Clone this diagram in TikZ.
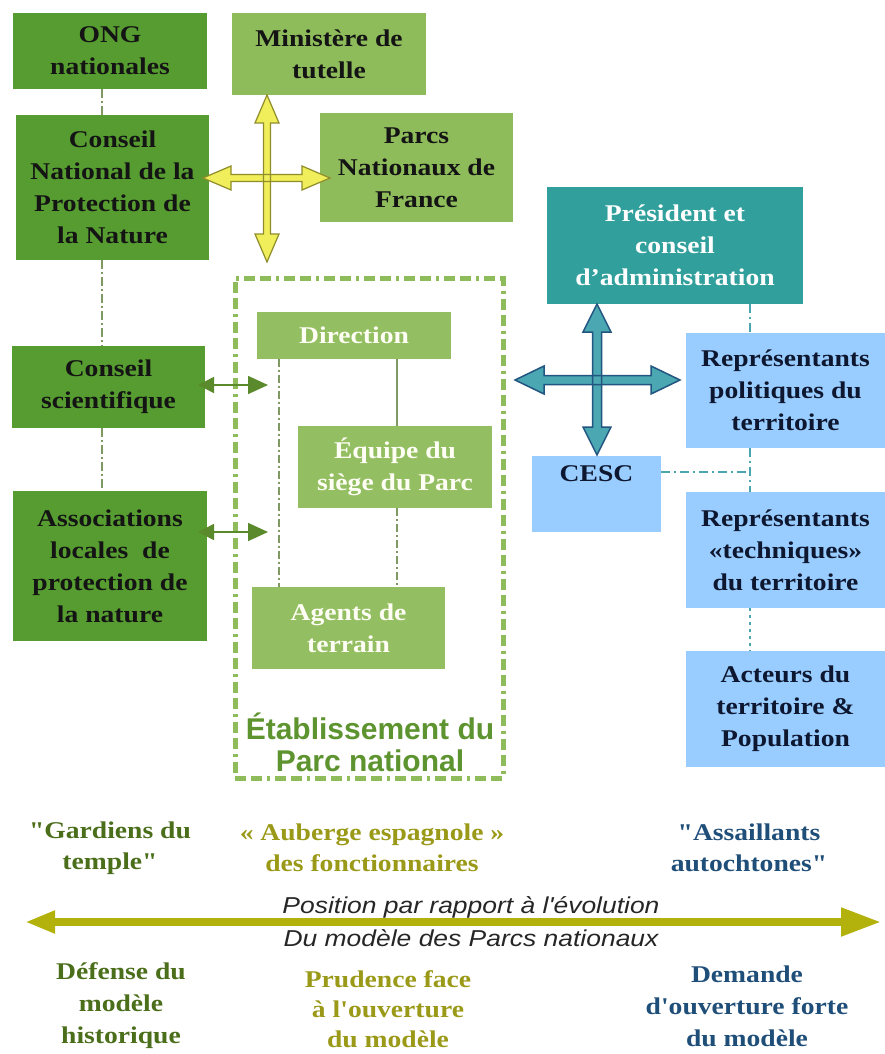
\documentclass[tikz,border=0pt]{standalone}
\usepackage{fontspec}
\usetikzlibrary{arrows.meta}
\newfontfamily\serifx{Liberation Serif}[FakeStretch=1.15]
\newfontfamily\sansx{Liberation Sans}
\newfontfamily\sansxi{Liberation Sans}[FakeStretch=1.15]
\definecolor{dg}{HTML}{569C30}
\definecolor{lg}{HTML}{8FBC5B}
\definecolor{lgtwo}{HTML}{93BF62}
\definecolor{tealb}{HTML}{31A09D}
\definecolor{lb}{HTML}{99CCFF}
\definecolor{ylf}{HTML}{F0EE5A}
\definecolor{yld}{HTML}{8F8E2A}
\definecolor{tlf}{HTML}{4BA8B2}
\definecolor{tld}{HTML}{22557F}
\definecolor{conn}{HTML}{7E9A62}
\definecolor{arrg}{HTML}{5B8A2C}
\definecolor{axiscol}{HTML}{B3B20C}
\definecolor{tgreen}{HTML}{4B6E1B}
\definecolor{tolive}{HTML}{9A9918}
\definecolor{tnavy}{HTML}{1F4E79}
\definecolor{etab}{HTML}{5E9430}
\definecolor{tdash}{HTML}{4AA5AE}
\definecolor{rtext}{HTML}{0E1730}
\newcommand{\HArr}[7]{\path[#1] (#2,#4) -- (#2+#7,#4-#6) -- (#2+#7,#4-#5) -- (#3-#7,#4-#5) -- (#3-#7,#4-#6) -- (#3,#4) -- (#3-#7,#4+#6) -- (#3-#7,#4+#5) -- (#2+#7,#4+#5) -- (#2+#7,#4+#6) -- cycle;}
\newcommand{\VArr}[7]{\path[#1] (#4,#2) -- (#4-#6,#2+#7) -- (#4-#5,#2+#7) -- (#4-#5,#3-#7) -- (#4-#6,#3-#7) -- (#4,#3) -- (#4+#6,#3-#7) -- (#4+#5,#3-#7) -- (#4+#5,#2+#7) -- (#4+#6,#2+#7) -- cycle;}
\tikzset{
  box/.style={rectangle, inner sep=0pt, align=center, font=\serifx\bfseries\fontsize{24}{32}\selectfont, text=black!92},
  dgbox/.style={box, fill=dg},
  lgbox/.style={box, fill=lg},
  inbox/.style={box, fill=lgtwo, text=white!96!yellow},
  tbox/.style={box, fill=tealb, text=white},
  bbox/.style={box, fill=lb, text=rtext},
  leftconn/.style={draw=conn, line width=1.5pt, dash pattern=on 9pt off 3pt on 2pt off 3pt},
  inconn/.style={draw=conn, line width=1.3pt},
  rconn/.style={draw=tdash, line width=2.5pt, dash pattern=on 9pt off 4pt on 2pt off 4pt},
  smallarr/.style={draw=arrg, line width=1.5pt, {Triangle[length=16pt,width=16pt]}-{Triangle[length=20pt,width=18pt]}},
  bottxt/.style={align=center, inner sep=0pt, font=\serifx\bfseries\fontsize{24}{31}\selectfont},
  ital/.style={align=center, inner sep=0pt, text=black!85, font=\sansxi\itshape\fontsize{23}{32}\selectfont}
}
\begin{document}
\begin{tikzpicture}[x=1pt,y=-1pt]
\useasboundingbox (0,0) rectangle (885,1054);
\fill[white] (0,0) rectangle (885,1054);

% establishment frame
\node[draw=lg, line width=5pt, dash pattern=on 11pt off 5pt on 11pt off 5pt on 3pt off 5pt, minimum width=268, minimum height=500, inner sep=0pt] (etabbox) at (369,528) {};
\node[align=center, inner sep=0pt, text=etab, font=\sansx\bfseries\fontsize{30}{32}\selectfont] (etablbl) at (370,742) {Établissement du\\Parc national};

% left column
\node[dgbox, minimum width=194, minimum height=76] (ong) at (110,51) {ONG\\nationales};
\node[lgbox, minimum width=194, minimum height=82] (min) at (329,54) {Ministère de\\tutelle};
\node[dgbox, minimum width=193, minimum height=145] (cnpn) at (112.5,187.5) {Conseil\\National de la\\Protection de\\la Nature};
\node[lgbox, minimum width=193, minimum height=109] (pnf) at (416.5,167.5) {Parcs\\Nationaux de\\France};
\node[dgbox, minimum width=193, minimum height=82] (cs) at (108.5,387) {Conseil\\scientifique};
\node[dgbox, minimum width=194, minimum height=150] (assoc) at (110,566) {Associations\\locales\ \ de\\protection de\\la nature};

% inner boxes
\node[inbox, minimum width=194, minimum height=47] (dir) at (354,335.5) {Direction};
\node[inbox, minimum width=194, minimum height=82] (equipe) at (395,467) {Équipe du\\siège du Parc};
\node[inbox, minimum width=193, minimum height=82] (agents) at (348.5,628) {Agents de\\terrain};

% right column
\node[tbox, minimum width=256, minimum height=117] (pres) at (675,245.5) {Président et\\conseil\\d’administration};
\node[bbox, minimum width=199, minimum height=115] (rpol) at (785.5,390.5) {Représentants\\politiques du\\territoire};
\node[bbox, minimum width=129, minimum height=76] (cesc) at (596.5,494) {CESC\\ \strut};
\node[bbox, minimum width=199, minimum height=116] (rtech) at (785.5,550) {Représentants\\«techniques»\\du territoire};
\node[bbox, minimum width=199, minimum height=116] (act) at (785.5,709) {Acteurs du\\territoire \&\\Population};

% left dashed connectors
\coordinate (lx) at (102,0);
\draw[leftconn] (ong.south -| lx) -- (cnpn.north -| lx);
\draw[leftconn] (cnpn.south -| lx) -- (cs.north -| lx);
\draw[leftconn] (cs.south -| lx) -- (assoc.north -| lx);

% inner connectors
\coordinate (ixa) at (279,0);
\coordinate (ixb) at (397,0);
\draw[inconn, dash pattern=on 8pt off 3pt on 2pt off 3pt] (dir.south -| ixa) -- (agents.north -| ixa);
\draw[inconn] (dir.south -| ixb) -- (equipe.north -| ixb);
\draw[inconn, dash pattern=on 8pt off 3pt on 2pt off 3pt] (equipe.south -| ixb) -- (agents.north -| ixb);

% right connectors
\coordinate (rx) at (750,0);
\coordinate (cy) at (0,472);
\draw[rconn] (pres.south -| rx) -- (rpol.north -| rx);
\draw[rconn] (rpol.south -| rx) -- (rtech.north -| rx);
\draw[rconn] (cesc.east |- cy) -- (rx |- cy);
\draw[draw=tdash, line width=2.5pt, dash pattern=on 3pt off 4pt] (rtech.south -| rx) -- (act.north -| rx);

% small double arrows
\coordinate (sa) at (198,385);
\coordinate (sb) at (268,385);
\coordinate (sc) at (198,532);
\coordinate (sd) at (268,532);
\draw[smallarr] (sa) -- (sb);
\draw[smallarr] (sc) -- (sd);

% yellow cross
\HArr{fill=ylf}{203}{330}{178}{3.5}{12}{28}
\VArr{fill=ylf}{95}{262}{267}{3.5}{12}{28}
\HArr{draw=yld, line width=1.2pt}{203}{330}{178}{3.5}{12}{28}
\VArr{draw=yld, line width=1.2pt}{95}{262}{267}{3.5}{12}{28}

% teal cross
\HArr{fill=tlf}{515}{680}{380}{4.5}{14}{29}
\VArr{fill=tlf}{304}{455}{597}{4.5}{14}{28}
\HArr{draw=tld, line width=1.5pt}{515}{680}{380}{4.5}{14}{29}
\VArr{draw=tld, line width=1.5pt}{304}{455}{597}{4.5}{14}{28}

% bottom labels
\node[bottxt, text=tgreen] (gard) at (110,848) {"Gardiens du\\temple"};
\node[bottxt, text=tolive] (aub) at (372,848) {« Auberge espagnole »\\des fonctionnaires};
\node[bottxt, text=tnavy] (ass) at (749,848) {"Assaillants\\autochtones"};

% axis
\coordinate (axl) at (25,922);
\coordinate (axr) at (881,922);
\draw[draw=axiscol, line width=8pt, {Triangle[length=30pt,width=21pt]}-{Triangle[length=40pt,width=27pt]}] (axl) -- (axr);
\node[ital] (pos1) at (471,907) {Position par rapport à l'évolution};
\node[ital] (pos2) at (471,938) {Du modèle des Parcs nationaux};

\node[bottxt, text=tgreen, font=\serifx\bfseries\fontsize{24}{32}\selectfont] (def) at (121,1006) {Défense du\\modèle\\historique};
\node[bottxt, text=tolive, font=\serifx\bfseries\fontsize{24}{30}\selectfont] (prud) at (388,1009) {Prudence face\\à l'ouverture\\du modèle};
\node[bottxt, text=tnavy, font=\serifx\bfseries\fontsize{24}{32}\selectfont] (dem) at (747,1006) {Demande\\d'ouverture forte\\du modèle};
\end{tikzpicture}
\end{document}
